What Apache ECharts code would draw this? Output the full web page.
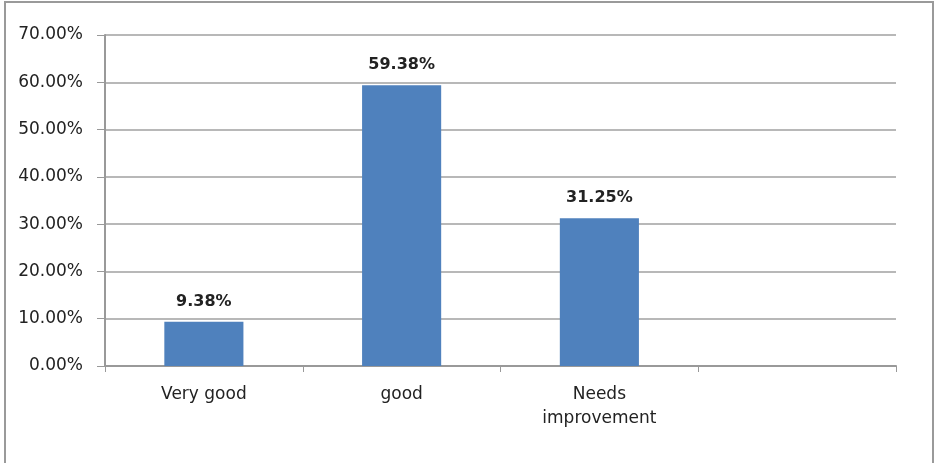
<!DOCTYPE html>
<html>
<head>
<meta charset="utf-8">
<script src="https://cdn.jsdelivr.net/npm/echarts@6/dist/echarts.min.js"></script>
<style>
* { padding: 0; margin: 0; }
body { background: #fff; }
</style>
</head>
<body>
<div id="chart" style="width: 939px; height: 463px"></div>
<script>
const categories = ["Very good", "good", "Needs\nimprovement", ""];
const shares = [9.38, 59.38, 31.25, "-"];

const font = "DejaVu Sans";
const chart = echarts.init(document.getElementById("chart"));
chart.setOption({
  animation: false,
  graphic: [
    {
      type: "rect",
      shape: { x: 5, y: 2, width: 928, height: 520 },
      style: { fill: "none", stroke: "#9a9a9a", lineWidth: 2 },
    },
  ],
  grid: { left: 105, right: 43, top: 35, bottom: 97 },
  xAxis: {
    type: "category",
    data: categories,
    axisLine: { lineStyle: { color: "#999", width: 2 } },
    axisTick: { show: true, length: 6, lineStyle: { color: "#999" } },
    axisLabel: {
      color: "#222",
      fontFamily: font,
      fontSize: 17,
      margin: 17,
      lineHeight: 24,
      interval: 0,
    },
  },
  yAxis: {
    type: "value",
    min: 0,
    max: 70,
    interval: 10,
    axisLine: { show: true, lineStyle: { color: "#999", width: 2 } },
    axisTick: { show: true, length: 8, lineStyle: { color: "#999" } },
    axisLabel: {
      color: "#222",
      fontFamily: font,
      fontSize: 17,
      margin: 22,
      formatter: (v) => v.toFixed(2) + "%",
    },
    splitLine: { lineStyle: { color: "#a0a0a0", width: 1.5 } },
  },
  series: [
    {
      type: "bar",
      data: shares,
      barWidth: "40%",
      itemStyle: { color: "#4f81bd" },
      label: {
        show: true,
        position: "top",
        distance: 12,
        color: "#222",
        fontFamily: font,
        fontSize: 16,
        fontWeight: "bold",
        formatter: (p) => p.value.toFixed(2) + "%",
      },
    },
  ],
});
</script>
</body>
</html>
